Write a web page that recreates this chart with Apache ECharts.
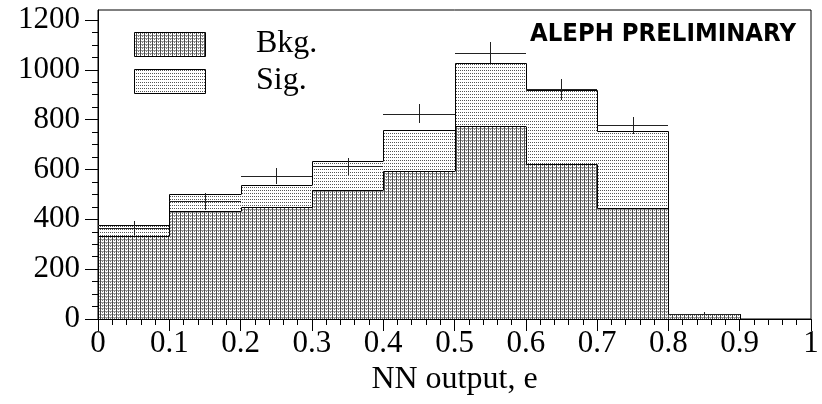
<!DOCTYPE html>
<html><head><meta charset="utf-8">
<script src="https://cdn.jsdelivr.net/npm/echarts@6/dist/echarts.min.js"></script>
<style>html,body{margin:0;padding:0;background:#fff}#c{width:822px;height:404px}</style>
</head><body><div id="c"></div>
<script>
// ---- data ----
const binEdges = [0, 0.1, 0.2, 0.3, 0.4, 0.5, 0.6, 0.7, 0.8, 0.9, 1.0];
const bkg      = [332, 432, 448, 519, 592, 775, 623, 447, 20, 0];
const sig      = [45, 68, 91, 114, 168, 252, 297, 309, 2, 0];
const dataVal  = [366, 472, 575, 613, 824, 1068, 921, 777, 22];
const dataErr  = [28, 33, 32, 34, 39, 42, 41, 35, 5];
const yTicks   = [0, 200, 400, 600, 800, 1000, 1200];
const yMinor   = [50,100,150,250,300,350,450,500,550,650,700,750,850,900,950,1050,1100,1150];
const xTicks   = [0, 0.1, 0.2, 0.3, 0.4, 0.5, 0.6, 0.7, 0.8, 0.9, 1];
const legendNames = ['Bkg.', 'Sig.'];
const xName = 'NN output, e';
const stamp = 'ALEPH PRELIMINARY';

// ---- patterns ----
function makeCanvas(w, h, draw) {
  const c = document.createElement('canvas'); c.width = w; c.height = h;
  const ctx = c.getContext('2d'); ctx.fillStyle = '#fff'; ctx.fillRect(0, 0, w, h);
  draw(ctx); return c;
}
const bkgCanvas = makeCanvas(4, 3, ctx => {
  ctx.fillStyle = '#4a4a4a'; ctx.fillRect(0, 0, 1, 3);
  ctx.fillStyle = '#9a9a9a'; ctx.fillRect(1, 2, 3, 1);
  ctx.fillStyle = '#777'; ctx.fillRect(2, 0, 1, 1);
});
const sigCanvas = makeCanvas(4, 3, ctx => {
  ctx.fillStyle = '#555'; ctx.fillRect(0, 1, 1, 1); ctx.fillRect(2, 1, 1, 1);
});
const bkgFill = { image: bkgCanvas, repeat: 'repeat' };
const sigFill = { image: sigCanvas, repeat: 'repeat' };

const FONT = 'Liberation Serif';
const chart = echarts.init(document.getElementById('c'), null, { renderer: 'canvas' });

const histData = bkg.map((b, i) => [binEdges[i], binEdges[i + 1], b, b + sig[i], i]);
const errData = dataVal.map((v, i) => [binEdges[i], binEdges[i + 1], v, dataErr[i]]);

const h = v => Math.round(v) + 0.5;

function renderHist(params, api) {
  const x0 = api.value(0), x1 = api.value(1), b = api.value(2), t = api.value(3), i = api.value(4);
  const pb = i > 0 ? bkg[i - 1] : 0, pt = i > 0 ? bkg[i - 1] + sig[i - 1] : 0;
  const L = api.coord([x0, 0]), R = api.coord([x1, 0]);
  const yb = api.coord([x0, b])[1], yt = api.coord([x0, t])[1];
  const ypb = api.coord([x0, pb])[1], ypt = api.coord([x0, pt])[1];
  const xl = Math.round(L[0]), xr = Math.round(R[0]), y0 = Math.round(L[1]);
  const children = [];
  if (t > b) children.push({ type: 'rect', shape: { x: xl, y: Math.round(yt), width: xr - xl, height: Math.round(yb) - Math.round(yt) }, style: { fill: sigFill } });
  if (b > 0) children.push({ type: 'rect', shape: { x: xl, y: Math.round(yb), width: xr - xl, height: y0 - Math.round(yb) }, style: { fill: bkgFill } });
  children.push({ type: 'polyline', shape: { points: [[h(xl), h(ypb)], [h(xl), h(yb)], [h(xr), h(yb)]] }, style: { stroke: '#000', lineWidth: 1, fill: null } });
  children.push({ type: 'polyline', shape: { points: [[h(xl), h(ypt)], [h(xl), h(yt)], [h(xr), h(yt)]] }, style: { stroke: '#000', lineWidth: 1, fill: null } });
  return { type: 'group', children };
}

function renderErr(params, api) {
  const x0 = api.value(0), x1 = api.value(1), v = api.value(2), e = api.value(3);
  const a = api.coord([x0, v]), bpt = api.coord([x1, v]);
  const xm = api.coord([(x0 + x1) / 2, v])[0];
  const yTop = api.coord([x0, v + e])[1], yBot = api.coord([x0, v - e])[1];
  return { type: 'group', children: [
    { type: 'line', shape: { x1: Math.round(a[0]), y1: h(a[1]), x2: Math.round(bpt[0]), y2: h(a[1]) }, style: { stroke: '#222', lineWidth: 1 } },
    { type: 'line', shape: { x1: h(xm), y1: Math.round(yTop), x2: h(xm), y2: Math.round(yBot) }, style: { stroke: '#222', lineWidth: 1 } }
  ] };
}

// measure stamp width to fit reference width
const mc = document.createElement('canvas').getContext('2d');
mc.font = 'bold 24px "DejaVu Sans"';
const stampW = mc.measureText(stamp).width;
const stampScale = 266 / stampW;

const option = {
  animation: false,
  backgroundColor: '#fff',
  grid: { left: 98, right: 11, top: 10, bottom: 85, show: true, borderColor: '#000', borderWidth: 1, backgroundColor: 'transparent' },
  xAxis: {
    type: 'value', min: 0, max: 1, interval: 0.1,
    axisLine: { lineStyle: { color: '#000', width: 1 } },
    axisTick: { show: true, length: 12, lineStyle: { color: '#000' } },
    minorTick: { show: true, splitNumber: 5, length: 6, lineStyle: { color: '#000' } },
    axisLabel: { color: '#000', fontFamily: FONT, fontSize: 31, margin: 9, formatter: v => String(+v.toFixed(1)) },
    splitLine: { show: false }, minorSplitLine: { show: false },
    name: xName, nameLocation: 'middle', nameGap: 44,
    nameTextStyle: { color: '#000', fontFamily: FONT, fontSize: 32 }
  },
  yAxis: [{
    type: 'value', min: 0, max: 1240, position: 'left',
    axisLine: { show: true, lineStyle: { color: '#000', width: 1 } },
    axisTick: { show: true, length: 13, customValues: yTicks, lineStyle: { color: '#000' } },
    axisLabel: { color: '#000', fontFamily: FONT, fontSize: 31, margin: 18, customValues: yTicks, formatter: v => String(v) },
    splitLine: { show: false }
  }, {
    type: 'value', min: 0, max: 1240, position: 'left',
    axisLine: { show: false },
    axisTick: { show: true, length: 6, customValues: yMinor, lineStyle: { color: '#000' } },
    axisLabel: { show: false },
    splitLine: { show: false }
  }],
  graphic: [
    { type: 'rect', shape: { x: 134.5, y: 32.5, width: 71, height: 24 }, style: { fill: bkgFill, stroke: '#000', lineWidth: 1 } },
    { type: 'rect', shape: { x: 134.5, y: 69.5, width: 71, height: 24 }, style: { fill: sigFill, stroke: '#000', lineWidth: 1 } },
    { type: 'text', x: 256, y: 44, style: { text: legendNames[0], fontFamily: FONT, fontSize: 32, fill: '#000', verticalAlign: 'middle' } },
    { type: 'text', x: 256, y: 81, style: { text: legendNames[1], fontFamily: FONT, fontSize: 32, fill: '#000', verticalAlign: 'middle' } },
    { type: 'text', x: 796, y: 35, scaleX: stampScale, originX: 0,
      style: { text: stamp, fontFamily: 'DejaVu Sans', fontWeight: 'bold', fontSize: 24, fill: '#000', align: 'right', verticalAlign: 'middle',
               textShadowColor: '#888', textShadowOffsetX: 1, textShadowOffsetY: 1, textShadowBlur: 0 } }
  ],
  series: [
    { type: 'custom', renderItem: renderHist, data: histData, clip: true, xAxisIndex: 0, yAxisIndex: 0, z: 2 },
    { type: 'custom', renderItem: renderErr, data: errData, clip: true, xAxisIndex: 0, yAxisIndex: 0, z: 3 }
  ]
};
chart.setOption(option);
</script></body></html>
